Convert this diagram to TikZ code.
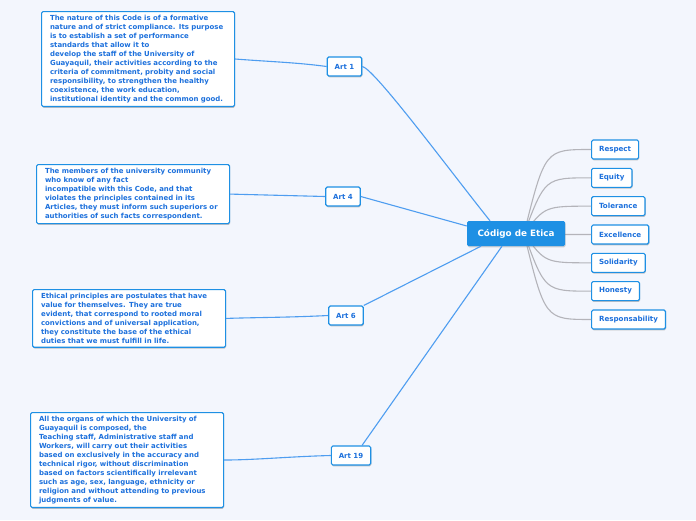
\documentclass[tikz,border=0pt]{standalone}
\usepackage{fontspec}
\setmainfont{DejaVu Sans}
\usetikzlibrary{shadows}

\definecolor{bgblue}{RGB}{243,246,253}
\definecolor{mapblue}{RGB}{30,144,228}
\definecolor{txtblue}{RGB}{28,112,220}
\definecolor{lineblue}{RGB}{78,157,240}
\definecolor{linegray}{RGB}{180,180,186}

\begin{document}
\begin{tikzpicture}[x=1pt,y=-1pt,
  box/.style={draw=mapblue,fill=white,line width=1.1pt,rounded corners=1.5pt,
    text=txtblue,font=\bfseries,
    drop shadow={shadow xshift=0.6pt,shadow yshift=-1.3pt,opacity=0.45}},
  art/.style={box,font=\fontsize{7}{8}\selectfont\bfseries,inner xsep=7.5pt,minimum height=19pt},
  leaf/.style={art,font=\fontsize{7.1}{8}\selectfont\bfseries,anchor=west},
  note/.style={box,anchor=north west,align=left,text width=176pt,inner xsep=8.5pt,inner ysep=3.8pt,
    font=\fontsize{6.95}{8.95}\selectfont\bfseries},
  root/.style={fill=mapblue,text=white,rounded corners=1.5pt,minimum width=98pt,minimum height=25pt,
    font=\fontsize{8.8}{10}\selectfont\bfseries,
    drop shadow={shadow xshift=0.6pt,shadow yshift=-1.3pt,opacity=0.35}},
  link/.style={lineblue,line width=1.1pt},
  twig/.style={linegray,line width=1.1pt}]

\useasboundingbox[fill=bgblue] (0,0) rectangle (696,520);

\def\hubx{524}
\coordinate (hub) at (\hubx,233.5);

\foreach \name/\txt [count=\i] in {respect/Respect,equity/Equity,tolerance/Tolerance,
    excellence/Excellence,solidarity/Solidarity,honesty/Honesty,resp/Responsability}
{
  \node[leaf] (\name) at (591,{149.5+28.33*(\i-1)}) {\txt};
  \draw[twig] (hub) .. controls ([xshift=-46pt]\name.west) .. (\name.west);
}

\node[root] (code) at (516,233.5) {Código de Etica};

\node[art] (a1) at (344.5,66.5) {Art 1};
\node[art] (a4) at (343,196.5) {Art 4};
\node[art] (a6) at (346,315.5) {Art 6};
\node[art] (a19) at (351,455.5) {Art 19};

\node[note] (n1) at (41,11) {The nature of this Code is of a formative\\
nature and of strict compliance. Its purpose\\
is to establish a set of performance\\
standards that allow it to\\
develop the staff of the University of\\
Guayaquil, their activities according to the\\
criteria of commitment, probity and social\\
responsibility, to strengthen the healthy\\
coexistence, the work education,\\
institutional identity and the common good.};

\node[note] (n4) at (36,164) {The members of the university community\\
who know of any fact\\
incompatible with this Code, and that\\
violates the principles contained in its\\
Articles, they must inform such superiors or\\
authorities of such facts correspondent.};

\node[note] (n6) at (32,289) {Ethical principles are postulates that have\\
value for themselves. They are true\\
evident, that correspond to rooted moral\\
convictions and of universal application,\\
they constitute the base of the ethical\\
duties that we must fulfill in life.};

\node[note] (n19) at (30,412) {All the organs of which the University of\\
Guayaquil is composed, the\\
Teaching staff, Administrative staff and\\
Workers, will carry out their activities\\
based on exclusively in the accuracy and\\
technical rigor, without discrimination\\
based on factors scientifically irrelevant\\
such as age, sex, language, ethnicity or\\
religion and without attending to previous\\
judgments of value.};

\draw[link] (a1.east) .. controls +(12,2) and +(-40,-50) .. ([xshift=-26pt]code.north);
\draw[link] (a4.east) -- ([yshift=7.5pt]code.west);
\draw[link] (a6.north east) -- ([xshift=-35pt]code.south);
\draw[link] ([xshift=11pt]a19.north) -- ([xshift=-14pt]code.south);

\draw[link] (n1.east) .. controls +(40,3) and +(-30,-4) .. (a1.west);
\draw[link] (n4.east) -- (a4.west);
\draw[link] (n6.east) .. controls +(30,-1) and +(-40,2) .. (a6.west);
\draw[link] (n19.east) .. controls +(30,0) and +(-40,1) .. (a19.west);

\end{tikzpicture}
\end{document}
